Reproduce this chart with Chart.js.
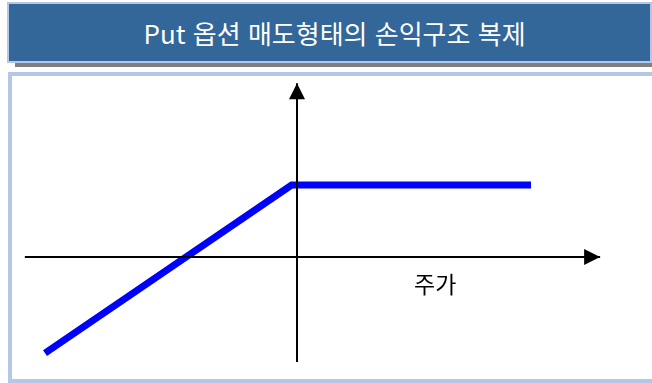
<!DOCTYPE html>
<html lang="ko">
<head>
<meta charset="UTF-8">
<title>Put 옵션 매도형태의 손익구조 복제</title>
<script src="https://cdn.jsdelivr.net/npm/chart.js"></script>
<style>
    body {
        margin: 0;
        width: 652px;
        height: 383px;
        overflow: hidden;
        background: #fff;
        position: relative;
        font-family: "Noto Sans CJK KR", "Noto Sans", sans-serif;
    }
    .title-shadow {
        position: absolute;
        left: 15px;
        top: 62px;
        width: 640px;
        height: 5px;
        background: #808080;
    }
    .title-bar {
        position: absolute;
        left: 7px;
        top: 2px;
        width: 631px;
        height: 57px;
        padding-left: 10px;
        background: #336699;
        border: 2px solid #b4c7e7;
        color: #fff;
        font-size: 26px;
        line-height: 57px;
        text-align: center;
    }
    .chart-box {
        position: absolute;
        left: 8px;
        top: 72px;
        width: 660px;
        height: 303px;
        border: 4px solid #b4c7e7;
        background: #fff;
    }
    .chart-wrap {
        position: absolute;
        left: 12px;
        top: 76px;
        width: 640px;
        height: 303px;
    }
    .axis-label {
        position: absolute;
        left: 414px;
        top: 266px;
        font-size: 23px;
        color: #000;
    }
</style>
</head>
<body>
    <div class="title-shadow"></div>
    <div class="title-bar">Put 옵션 매도형태의 손익구조 복제</div>
    <div class="chart-box"></div>
    <div class="chart-wrap"><canvas id="payoffChart"></canvas></div>
    <div class="axis-label">주가</div>

<script>
    // payoff of the replicated short put (x: stock price relative to strike)
    const stockPrice = [-7, -0.15, 6.5];
    const payoffValue = [-2.67, 2, 2];

    // axis line extents (arrow tip at the last value)
    const priceAxisRange = [-7.56, 8.42];
    const payoffAxisRange = [-2.92, 4.83];

    const payoffPoints = stockPrice.map((x, i) => ({ x: x, y: payoffValue[i] }));

    // draw arrowheads at the end of the axis datasets
    const arrowPlugin = {
        id: 'arrowHeads',
        afterDatasetsDraw(chart) {
            const ctx = chart.ctx;
            chart.data.datasets.forEach((ds, i) => {
                if (!ds.arrow) return;
                const pts = chart.getDatasetMeta(i).data;
                const a = pts[pts.length - 2], b = pts[pts.length - 1];
                const ang = Math.atan2(b.y - a.y, b.x - a.x);
                const len = 16, half = 8;
                ctx.save();
                ctx.translate(b.x, b.y);
                ctx.rotate(ang);
                ctx.beginPath();
                ctx.moveTo(0, 0);
                ctx.lineTo(-len, -half);
                ctx.lineTo(-len, half);
                ctx.closePath();
                ctx.fillStyle = '#000';
                ctx.fill();
                ctx.restore();
            });
        }
    };

    new Chart(document.getElementById('payoffChart'), {
        type: 'line',
        data: {
            datasets: [
                {
                    data: [{ x: priceAxisRange[0], y: 0 }, { x: priceAxisRange[1], y: 0 }],
                    borderColor: '#000',
                    borderWidth: 2,
                    pointRadius: 0,
                    arrow: true
                },
                {
                    data: [{ x: 0, y: payoffAxisRange[0] }, { x: 0, y: payoffAxisRange[1] }],
                    borderColor: '#000',
                    borderWidth: 2,
                    pointRadius: 0,
                    arrow: true
                },
                {
                    data: payoffPoints,
                    borderColor: '#0000ff',
                    borderWidth: 7,
                    borderCapStyle: 'butt',
                    borderJoinStyle: 'miter',
                    pointRadius: 0,
                    tension: 0
                }
            ]
        },
        options: {
            responsive: true,
            maintainAspectRatio: false,
            animation: false,
            events: [],
            layout: { padding: 0 },
            plugins: {
                legend: { display: false },
                tooltip: { enabled: false }
            },
            scales: {
                x: { type: 'linear', display: false, min: -7.917, max: 9.861 },
                y: { type: 'linear', display: false, min: -3.389, max: 5.028 }
            }
        },
        plugins: [arrowPlugin]
    });
</script>
</body>
</html>
